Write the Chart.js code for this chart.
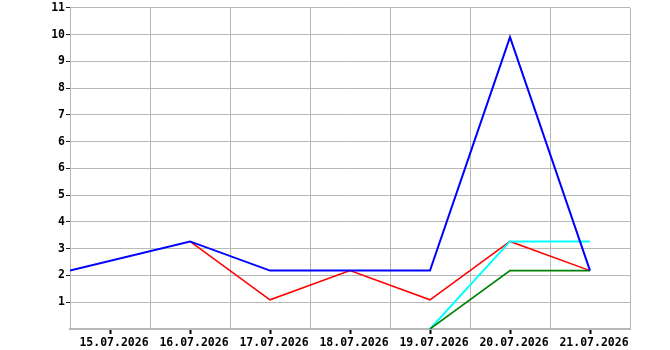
<!DOCTYPE html>
<html>
<head>
<meta charset="utf-8">
<script src="https://cdn.jsdelivr.net/npm/chart.js@4"></script>
<style>
  html, body { margin: 0; padding: 0; background: #fff; }
  #wrap { width: 670px; height: 350px; }
</style>
</head>
<body>
<div id="wrap"><canvas id="myChart"></canvas></div>
<script>
// x = day index, 0 = 15.07.2026
const xLabels = ['15.07.2026','16.07.2026','17.07.2026','18.07.2026','19.07.2026','20.07.2026','21.07.2026'];
const yTickLabels = ['11','10','9','8','7','6','6','5','4','3','2','1'];
const yMax = 11;

const blueX = [-0.5, 1, 2, 3, 4, 5, 6];
const blueY = [2, 3, 2, 2, 2, 10, 2];
const redX = [1, 2, 3, 4, 5, 6];
const redY = [3, 1, 2, 1, 3, 2];
const cyanX = [4, 5, 6];
const cyanY = [0, 3, 3];
const greenX = [4, 5, 6];
const greenY = [0, 2, 2];

const pts = (xs, ys) => xs.map((x, i) => ({x: x, y: ys[i]}));
const font = {family: 'DejaVu Sans Mono', size: 11.5, weight: 'bold'};
const gridGray = '#b8b8b8';

new Chart("myChart", {
  type: "line",
  data: {
    datasets: [
      {label: 'blue', data: pts(blueX, blueY), borderColor: '#0000ff', borderWidth: 2},
      {label: 'green', data: pts(greenX, greenY), borderColor: '#008000', borderWidth: 1.6},
      {label: 'cyan', data: pts(cyanX, cyanY), borderColor: '#00ffff', borderWidth: 2},
      {label: 'red', data: pts(redX, redY), borderColor: '#ff0000', borderWidth: 1.5}
    ]
  },
  options: {
    responsive: true,
    maintainAspectRatio: false,
    animation: false,
    layout: {padding: {top: 5, right: 40, left: 0, bottom: 0}},
    elements: {point: {radius: 0, hoverRadius: 0}, line: {tension: 0, fill: false}},
    plugins: {legend: {display: false}, tooltip: {enabled: false}},
    scales: {
      x: {
        type: 'linear',
        min: -0.5,
        max: 6.5,
        afterBuildTicks: s => {
          const t = [];
          for (let v = -0.5; v <= 6.5; v += 0.5) t.push({value: v});
          s.ticks = t;
        },
        afterFit: s => { s.height = 21; },
        border: {color: gridGray, width: 2},
        grid: {
          color: c => Number.isInteger(c.tick.value) ? 'transparent' : gridGray,
          tickColor: c => Number.isInteger(c.tick.value) ? '#000' : 'transparent',
          tickLength: 5,
          tickWidth: 2,
          lineWidth: 1
        },
        ticks: {
          autoSkip: false,
          maxRotation: 0,
          padding: 2,
          labelOffset: 4,
          color: '#000',
          font: font,
          callback: v => Number.isInteger(v) ? xLabels[v] : ''
        }
      },
      y: {
        type: 'linear',
        min: 0,
        max: yMax,
        afterBuildTicks: s => {
          const n = yTickLabels.length;
          const t = [];
          for (let i = 0; i <= n; i++) t.push({value: yMax - i * yMax / n});
          s.ticks = t;
        },
        afterFit: s => { s.width = 70; },
        border: {color: gridGray, width: 1},
        grid: {
          color: gridGray,
          lineWidth: 1,
          tickLength: 4,
          tickColor: c => c.index < yTickLabels.length ? '#222' : 'transparent'
        },
        ticks: {
          padding: 1,
          color: '#000',
          font: font,
          callback: (v, i) => yTickLabels[i] || ''
        }
      }
    }
  }
});
</script>
</body>
</html>
